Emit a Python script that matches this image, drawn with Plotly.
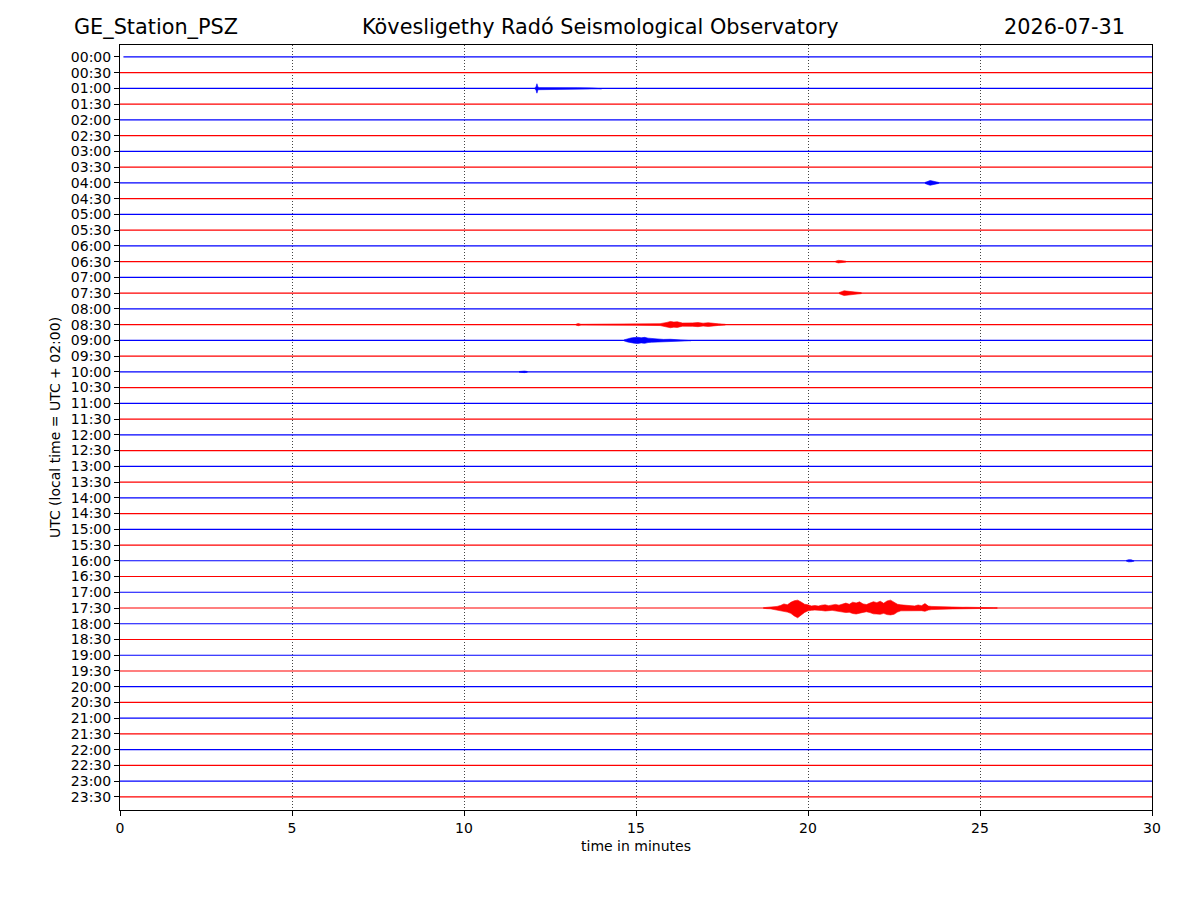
import plotly.graph_objects as go

# --- Labels / meta ---
STATION = "GE_Station_PSZ"
OBSERVATORY = "Kövesligethy Radó Seismological Observatory"
DATE = "2026-07-31"

# 48 half-hour rows, 00:00 .. 23:30
ROW_LABELS = [
    "00:00", "00:30", "01:00", "01:30", "02:00", "02:30", "03:00", "03:30",
    "04:00", "04:30", "05:00", "05:30", "06:00", "06:30", "07:00", "07:30",
    "08:00", "08:30", "09:00", "09:30", "10:00", "10:30", "11:00", "11:30",
    "12:00", "12:30", "13:00", "13:30", "14:00", "14:30", "15:00", "15:30",
    "16:00", "16:30", "17:00", "17:30", "18:00", "18:30", "19:00", "19:30",
    "20:00", "20:30", "21:00", "21:30", "22:00", "22:30", "23:00", "23:30",
]
ROW_START = [0.1] + [0.0] * 47   # minutes, first row begins slightly late
ROW_END = [30.0] * 48

X_TICKS = [0, 5, 10, 15, 20, 25, 30]

# --- Event envelopes (minutes, half amplitude in row units) ---
EV_0100_T = [12.05, 12.09, 12.12, 12.15, 12.2, 12.4, 12.8, 13.3, 13.7, 14.0]
EV_0100_A = [0.02, 0.08, 0.30, 0.08, 0.05, 0.04, 0.035, 0.04, 0.03, 0.02]

EV_0400_T = [23.4, 23.48, 23.55, 23.62, 23.7, 23.8]
EV_0400_A = [0.03, 0.10, 0.15, 0.12, 0.07, 0.03]

EV_0630_T = [20.8, 20.88, 20.95, 21.02, 21.1]
EV_0630_A = [0.03, 0.08, 0.07, 0.05, 0.03]

EV_0730_T = [20.9, 20.98, 21.05, 21.12, 21.2, 21.3, 21.42, 21.55]
EV_0730_A = [0.03, 0.10, 0.15, 0.13, 0.12, 0.09, 0.05, 0.03]

EV_0830_T = [13.25, 13.32, 13.4, 14.0, 15.0, 15.7, 15.9, 16.0, 16.1, 16.2,
             16.35, 16.5, 16.65, 16.8, 16.95, 17.1, 17.25, 17.4, 17.6]
EV_0830_A = [0.02, 0.07, 0.02, 0.03, 0.035, 0.06, 0.14, 0.20, 0.16, 0.18,
             0.10, 0.09, 0.11, 0.13, 0.09, 0.12, 0.07, 0.05, 0.02]

EV_0900_T = [14.65, 14.75, 14.85, 14.95, 15.05, 15.15, 15.25, 15.35, 15.45,
             15.6, 15.8, 16.0, 16.2, 16.4, 16.6]
EV_0900_A = [0.03, 0.10, 0.15, 0.18, 0.20, 0.16, 0.19, 0.14, 0.12,
             0.08, 0.06, 0.07, 0.05, 0.04, 0.02]

EV_1000_T = [11.6, 11.68, 11.76, 11.84]
EV_1000_A = [0.02, 0.05, 0.05, 0.02]

EV_1600_T = [29.25, 29.32, 29.4, 29.48]
EV_1600_A = [0.02, 0.07, 0.06, 0.02]

EV_1730_T = [18.7, 18.8, 18.9, 19.0, 19.1, 19.2, 19.3, 19.4, 19.5, 19.6,
             19.7, 19.8, 19.9, 20.0, 20.1, 20.2, 20.3, 20.4, 20.5, 20.6,
             20.7, 20.8, 20.9, 21.0, 21.1, 21.2, 21.3, 21.4, 21.5, 21.6,
             21.7, 21.8, 21.9, 22.0, 22.1, 22.2, 22.3, 22.4, 22.5, 22.6,
             22.7, 22.8, 22.9, 23.0, 23.1, 23.2, 23.3, 23.4, 23.5, 23.6,
             23.7, 23.8, 23.9, 24.0, 24.1, 24.2, 24.3, 24.4, 24.5, 24.6,
             24.7, 24.8, 24.9, 25.0, 25.1, 25.2, 25.3, 25.4, 25.5]
EV_1730_UP = [0.02, 0.04, 0.05, 0.08, 0.10, 0.16, 0.26, 0.20, 0.36, 0.46,
              0.50, 0.38, 0.24, 0.20, 0.13, 0.16, 0.12, 0.18, 0.20, 0.15,
              0.18, 0.23, 0.18, 0.27, 0.31, 0.24, 0.37, 0.32, 0.39, 0.26,
              0.22, 0.31, 0.40, 0.34, 0.43, 0.30, 0.45, 0.50, 0.36, 0.24,
              0.20, 0.18, 0.15, 0.17, 0.13, 0.19, 0.15, 0.28, 0.12, 0.10,
              0.09, 0.10, 0.07, 0.08, 0.06, 0.07, 0.05, 0.06, 0.045, 0.05,
              0.04, 0.035, 0.04, 0.035, 0.03, 0.03, 0.025, 0.02, 0.02]
EV_1730_DN = [0.02, 0.04, 0.05, 0.07, 0.10, 0.14, 0.22, 0.26, 0.34, 0.50,
              0.62, 0.44, 0.28, 0.18, 0.15, 0.13, 0.14, 0.16, 0.19, 0.17,
              0.15, 0.21, 0.21, 0.25, 0.29, 0.27, 0.35, 0.38, 0.34, 0.28,
              0.24, 0.29, 0.37, 0.38, 0.40, 0.34, 0.42, 0.44, 0.40, 0.26,
              0.18, 0.17, 0.17, 0.15, 0.15, 0.17, 0.17, 0.21, 0.13, 0.10,
              0.09, 0.09, 0.08, 0.07, 0.07, 0.06, 0.05, 0.05, 0.045, 0.04,
              0.04, 0.035, 0.035, 0.03, 0.03, 0.025, 0.02, 0.02, 0.02]

EVENTS = [
    (2, EV_0100_T, EV_0100_A, EV_0100_A),
    (8, EV_0400_T, EV_0400_A, EV_0400_A),
    (13, EV_0630_T, EV_0630_A, EV_0630_A),
    (15, EV_0730_T, EV_0730_A, EV_0730_A),
    (17, EV_0830_T, EV_0830_A, EV_0830_A),
    (18, EV_0900_T, EV_0900_A, EV_0900_A),
    (20, EV_1000_T, EV_1000_A, EV_1000_A),
    (32, EV_1600_T, EV_1600_A, EV_1600_A),
    (35, EV_1730_T, EV_1730_UP, EV_1730_DN),
]

COLORS = ["#0000ff", "#ff0000"]
FONT = "DejaVu Sans"

fig = go.Figure()

# baseline traces
for i, lab in enumerate(ROW_LABELS):
    fig.add_trace(go.Scatter(
        x=[ROW_START[i], ROW_END[i]], y=[i, i], mode='lines',
        line=dict(color=COLORS[i % 2], width=1.2),
        showlegend=False, hoverinfo='skip'))

# event bursts as filled envelopes
for row, t, up, dn in EVENTS:
    xs = list(t) + list(reversed(t))
    ys = [row - a for a in up] + [row + a for a in reversed(dn)]
    fig.add_trace(go.Scatter(
        x=xs, y=ys, mode='lines', fill='toself',
        fillcolor=COLORS[row % 2],
        line=dict(color=COLORS[row % 2], width=0.6),
        showlegend=False, hoverinfo='skip'))

n = len(ROW_LABELS)
fig.update_layout(
    width=1200, height=900,
    margin=dict(l=112, r=56, t=37, b=98),
    plot_bgcolor='white', paper_bgcolor='white',
    font=dict(family=FONT, size=14, color='black'),
    xaxis=dict(
        range=[0, 30], tickvals=X_TICKS, ticks='outside', ticklen=5,
        tickcolor='black', showline=True, mirror=True, linecolor='black',
        linewidth=1, showgrid=True, gridcolor='#444444', gridwidth=0.6,
        griddash='1px,2px', zeroline=False,
        title=dict(text="time in minutes", standoff=6, font=dict(size=14)),
        tickfont=dict(size=14)),
    yaxis=dict(
        range=[n - 1 + 0.83, -0.76], tickvals=list(range(n)),
        ticktext=ROW_LABELS, ticks='outside', ticklen=5, tickcolor='black',
        showline=True, mirror=True, linecolor='black', linewidth=1,
        showgrid=False, zeroline=False,
        title=dict(text="UTC (local time = UTC + 02:00)", standoff=6,
                   font=dict(size=14)),
        tickfont=dict(size=14)),
    annotations=[
        dict(text=STATION, xref='paper', yref='paper', x=-0.0465, y=1.0235,
             xanchor='left', yanchor='middle', showarrow=False,
             font=dict(size=20.8)),
        dict(text=OBSERVATORY, xref='paper', yref='paper', x=0.4656, y=1.0235,
             xanchor='center', yanchor='middle', showarrow=False,
             font=dict(size=20.8)),
        dict(text=DATE, xref='paper', yref='paper', x=0.9758, y=1.0235,
             xanchor='right', yanchor='middle', showarrow=False,
             font=dict(size=20.8)),
    ],
)

fig.write_html("out.html")
